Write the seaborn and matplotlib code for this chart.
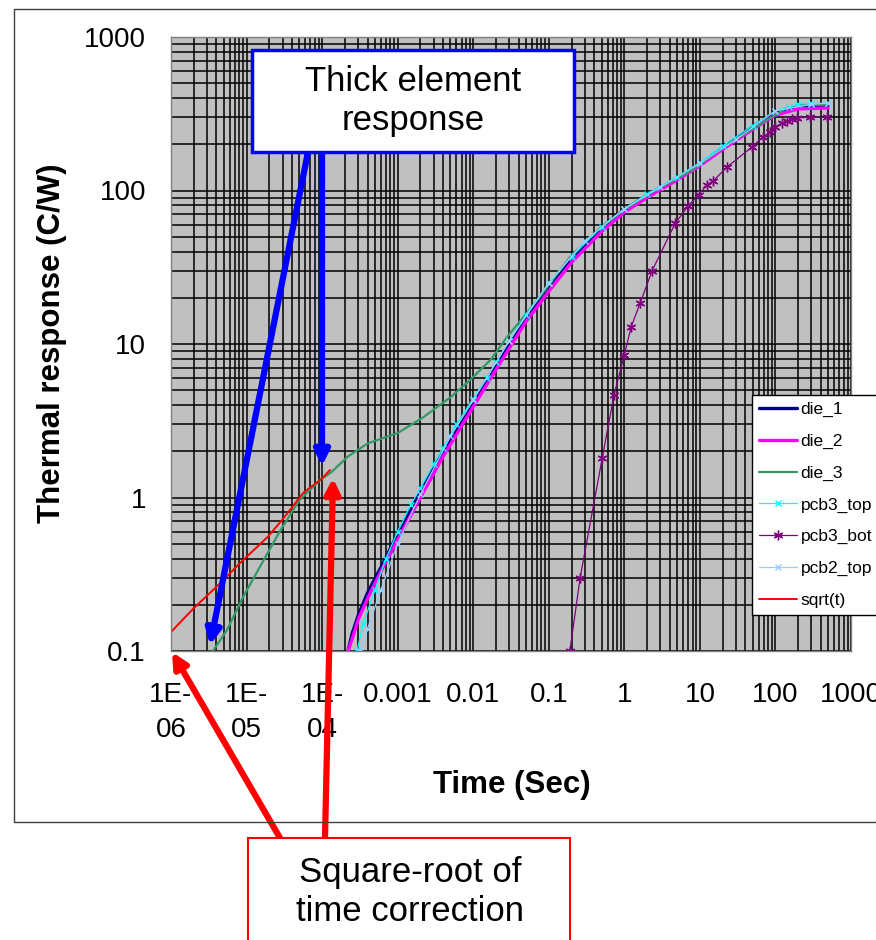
import numpy as np
import pandas as pd
import seaborn as sns
import matplotlib.pyplot as plt
from matplotlib.patches import Rectangle
from matplotlib.ticker import LogLocator, NullFormatter

# values (time in s, response in C/W)
die1_t = [2.2e-4, 2.5e-4, 3e-4, 4e-4, 6e-4, 1e-3, 2e-3, 4e-3, 1e-2, 2e-2, 5e-2, 0.1, 0.2, 0.5, 1, 2, 5, 10, 20, 50, 100, 200, 500]
die1_y = [0.1, 0.13, 0.17, 0.24, 0.35, 0.58, 1.1, 2.0, 4.2, 7.3, 15, 24, 36, 57, 75, 93, 120, 148, 190, 260, 320, 355, 360]

die2_t = [2.2e-4, 2.5e-4, 3e-4, 4e-4, 6e-4, 1e-3, 2e-3, 4e-3, 1e-2, 2e-2, 5e-2, 0.1, 0.2, 0.5, 1, 2, 5, 10, 20, 50, 100, 200, 500]
die2_y = [0.1, 0.12, 0.16, 0.22, 0.33, 0.53, 1.0, 1.85, 3.9, 6.8, 14, 22, 34, 54, 72, 90, 117, 145, 185, 250, 310, 340, 345]

die3_t = [3.6e-6, 5.5e-6, 9e-6, 1.5e-5, 2.8e-5, 5e-5, 9.4e-5, 1.3e-4, 2.2e-4, 4e-4, 1e-3, 2.2e-3, 5e-3, 9e-3, 1.7e-2, 2.8e-2, 7.6e-2, 0.2, 0.48, 1, 2.2, 8, 20, 50, 140, 250, 480]
die3_y = [0.1, 0.137, 0.225, 0.353, 0.61, 0.96, 1.3, 1.45, 1.85, 2.25, 2.63, 3.34, 4.5, 5.8, 7.9, 11.1, 20.2, 38, 57, 75, 96, 136, 190, 252, 345, 360, 362]

pcb3_top_t = [2.9e-4, 3.5e-4, 5e-4, 7e-4, 1e-3, 1.5e-3, 2e-3, 3e-3, 4e-3, 6e-3, 1e-2, 1.5e-2, 2e-2, 3e-2, 5e-2, 0.1, 0.2, 0.5, 1, 2, 5, 10, 20, 50, 100, 150, 200, 300, 500]
pcb3_top_y = [0.1, 0.15, 0.25, 0.4, 0.6, 0.9, 1.15, 1.65, 2.1, 3.0, 4.4, 6.0, 7.6, 10.5, 15.5, 25, 37, 58, 76, 95, 123, 152, 195, 265, 330, 350, 365, 370, 370]

pcb3_bot_t = [0.19, 0.26, 0.51, 0.73, 1.0, 1.23, 1.62, 2.33, 4.7, 6.95, 9.7, 12.4, 14.9, 22.8, 48.9, 68, 85, 99, 122, 142, 166, 193, 287, 481]
pcb3_bot_y = [0.1, 0.3, 1.81, 4.65, 8.5, 12.9, 18.5, 30, 61, 79, 94, 109, 115, 142, 192, 223, 240, 259, 275, 284, 292, 297, 300, 300]

pcb2_top_t = [3.2e-4, 4e-4, 6e-4, 1e-3, 2e-3, 5e-3, 1e-2, 3e-2, 0.1, 0.3, 1, 3, 10, 30, 100, 300, 500]
pcb2_top_y = [0.1, 0.14, 0.25, 0.5, 1.05, 2.5, 4.3, 10.5, 25, 47, 76, 105, 150, 215, 330, 365, 370]

sqrt_t = [1e-6, 2e-6, 4.5e-6, 8e-6, 1.9e-5, 3e-5, 5.6e-5, 1e-4, 1.27e-4]
sqrt_y = [0.133, 0.19, 0.277, 0.37, 0.553, 0.72, 1.07, 1.33, 1.51]

x_ticks = [1e-6, 1e-5, 1e-4, 1e-3, 1e-2, 1e-1, 1, 10, 100, 1000]
x_labels = ['1E-\n06', '1E-\n05', '1E-\n04', '0.001', '0.01', '0.1', '1', '10', '100', '1000']
y_ticks = [0.1, 1, 10, 100, 1000]
y_labels = ['0.1', '1', '10', '100', '1000']

series = [
    ('die_1', die1_t, die1_y, '#000080', 2.4, '', 0),
    ('die_2', die2_t, die2_y, '#FF00FF', 2.4, '', 0),
    ('die_3', die3_t, die3_y, '#339966', 1.6, '', 0),
    ('pcb3_top', pcb3_top_t, pcb3_top_y, '#00FFFF', 0.9, 'x', 5),
    ('pcb3_bot', pcb3_bot_t, pcb3_bot_y, '#800080', 0.9, (6, 2, 0), 7),
    ('pcb2_top', pcb2_top_t, pcb2_top_y, '#99CCFF', 0.9, 'x', 5),
    ('sqrt(t)', sqrt_t, sqrt_y, '#FF0000', 1.4, '', 0),
]

sns.set_style('white')
plt.rcParams['font.family'] = ['Liberation Sans', 'DejaVu Sans']
plt.rcParams['text.color'] = 'black'
plt.rcParams['xtick.color'] = 'black'
plt.rcParams['ytick.color'] = 'black'
plt.rcParams['axes.labelcolor'] = 'black'

W, H = 876, 940
fig = plt.figure(figsize=(W / 100, H / 100), dpi=100)
ax = fig.add_axes([171 / W, 1 - 651 / H, 680 / W, 614 / H])

for name, t, y, color, lw, marker, ms in series:
    df = pd.DataFrame({'t': t, 'y': y})
    sns.lineplot(data=df, x='t', y='y', ax=ax, color=color, lw=lw, marker=marker,
                 markersize=ms, markeredgecolor=color, markeredgewidth=1,
                 label=name, sort=False, estimator=None)

ax.set_xscale('log')
ax.set_yscale('log')
ax.set_xlim(1e-6, 1e3)
ax.set_ylim(0.1, 1000)
ax.set_facecolor('#C0C0C0')

ax.xaxis.set_minor_locator(LogLocator(base=10, subs=range(2, 10), numticks=50))
ax.yaxis.set_minor_locator(LogLocator(base=10, subs=range(2, 10), numticks=50))
ax.xaxis.set_minor_formatter(NullFormatter())
ax.yaxis.set_minor_formatter(NullFormatter())
ax.set_xticks(x_ticks)
ax.set_xticklabels(x_labels, linespacing=1.45)
ax.set_yticks(y_ticks)
ax.set_yticklabels(y_labels)
ax.grid(True, which='both', color='black', lw=1.1)
ax.set_axisbelow(True)
ax.tick_params(which='major', direction='out', length=6, width=1, color='black', labelsize=20,
               labelcolor='black')
ax.tick_params(axis='x', pad=16)
ax.tick_params(axis='y', pad=12)
ax.tick_params(which='minor', length=0)
for sp in ax.spines.values():
    sp.set_color('#808080')
    sp.set_linewidth(1)
ax.set_xlabel('')
ax.set_ylabel('')

fig.text(52 / W, 1 - 343 / H, 'Thermal response (C/W)', rotation=90, ha='center', va='center',
         fontsize=22.5, fontweight='bold', color='black')
fig.text(512 / W, 1 - 785 / H, 'Time (Sec)', ha='center', va='center', fontsize=22.5,
         fontweight='bold', color='black')

leg = ax.legend(loc='upper left', bbox_to_anchor=(752 / W, 1 - 395 / H), bbox_transform=fig.transFigure,
                fontsize=12.5, frameon=True, fancybox=False, edgecolor='black', framealpha=1,
                borderpad=0.4, labelspacing=0.95, handlelength=2.2, handletextpad=0.2, borderaxespad=0)
leg.get_frame().set_linewidth(1)
for txt in leg.get_texts():
    txt.set_color('black')

# Excel chart area border
fig.add_artist(Rectangle((14 / W, 1 - 822 / H), 900 / W, 813 / H, transform=fig.transFigure,
                         fill=False, ec='#404040', lw=1))

# callout boxes
fig.add_artist(Rectangle((252 / W, 1 - 152 / H), 322 / W, 102 / H, transform=fig.transFigure,
                         fc='white', ec='#0000FF', lw=2.5, zorder=5))
fig.text(413 / W, 1 - 101 / H, 'Thick element\nresponse', ha='center', va='center', fontsize=25,
         linespacing=1.2, zorder=6, color='black')
fig.add_artist(Rectangle((248 / W, 1 - 960 / H), 322 / W, 122 / H, transform=fig.transFigure,
                         fc='white', ec='#FF0000', lw=1.5, zorder=5))
fig.text(410 / W, 1 - 892 / H, 'Square-root of\ntime correction', ha='center', va='center', fontsize=25,
         linespacing=1.2, zorder=6, color='black')

arrows = [((308, 152), (210, 645), '#0000FF'),
          ((322, 152), (322, 466), '#0000FF'),
          ((280, 838), (172, 652), '#FF0000'),
          ((325, 838), (333, 478), '#FF0000')]
for (x0, y0), (x1, y1), c in arrows:
    ax.annotate('', xy=(x1, H - y1), xytext=(x0, H - y0), xycoords='figure pixels',
                textcoords='figure pixels', annotation_clip=False,
                arrowprops=dict(arrowstyle='-|>', color=c, lw=4.5, mutation_scale=22,
                                shrinkA=0, shrinkB=0), zorder=7)

fig.savefig('out.png', dpi=100)
